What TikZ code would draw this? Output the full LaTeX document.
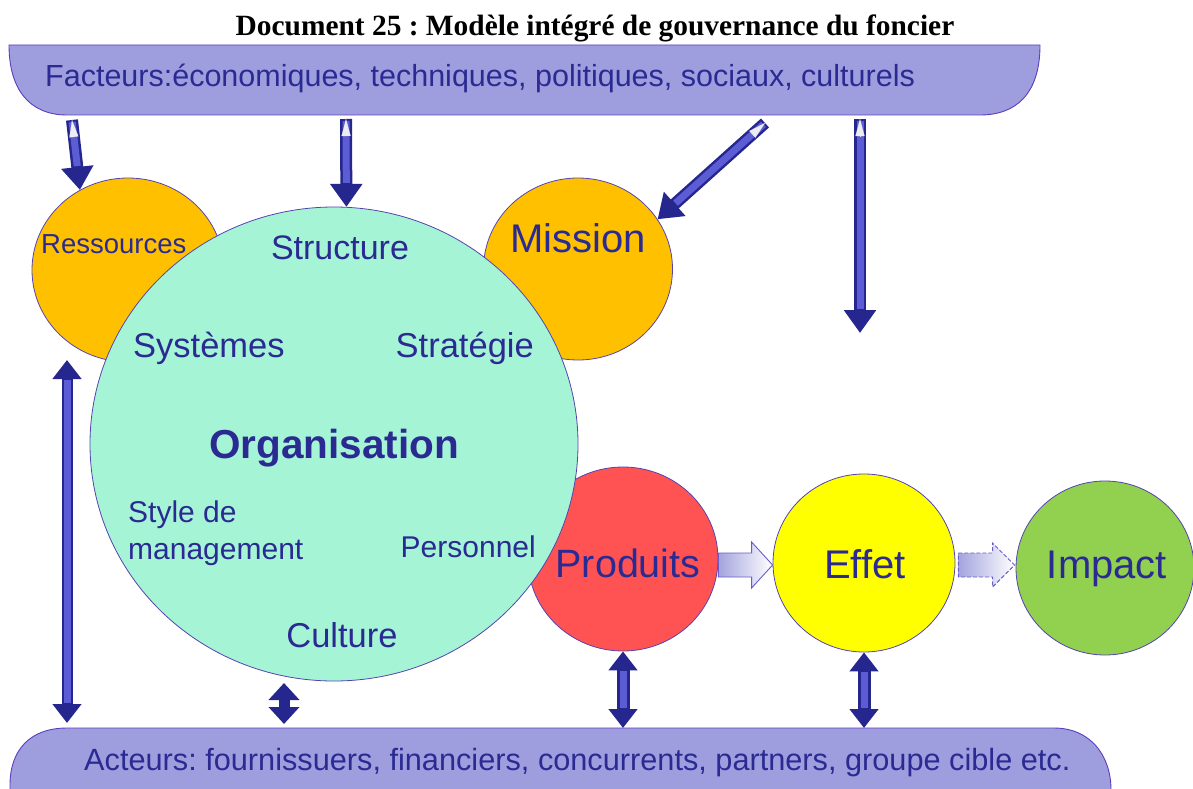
\documentclass[tikz,border=0pt]{standalone}
\usepackage{fontspec}
\setmainfont{Liberation Sans}
\newfontfamily\titlefont{Liberation Serif}
\usetikzlibrary{arrows.meta,calc,shapes.geometric}
\frenchspacing
\definecolor{banfill}{HTML}{9E9EDF}
\definecolor{banline}{HTML}{5A3EBE}
\definecolor{txtblue}{HTML}{2A2A92}
\definecolor{orng}{HTML}{FFC000}
\definecolor{aqua}{HTML}{A6F4D6}
\definecolor{redc}{HTML}{FF5353}
\definecolor{yelc}{HTML}{FFFF00}
\definecolor{grnc}{HTML}{92D050}
\definecolor{circline}{HTML}{5544B0}
\definecolor{arrdark}{HTML}{26268F}
\definecolor{arrlight}{HTML}{5C5CD4}
\definecolor{tailgray}{HTML}{ECECF2}
\definecolor{blkline}{HTML}{6A5CCB}
\definecolor{blkfill}{HTML}{A4A4DE}
\begin{document}
\begin{tikzpicture}[x=1pt,y=-1pt,
  banner/.style={fill=banfill, draw=banline, line width=0.9pt},
  circ/.style={ellipse, draw=circline, line width=0.8pt, inner sep=0pt},
  lbl/.style={text=txtblue, font=\fontsize{#1}{#1}\selectfont, inner sep=0pt},
  fat/.style={line width=12pt, draw=arrdark},
  fatin/.style={line width=7pt, draw=arrlight},
  onehead/.style={-{Triangle[length=23pt,width=31pt]}},
  twohead/.style={{Triangle[length=19pt,width=28pt]}-{Triangle[length=19pt,width=28pt]}},
  tailmark/.style={draw=tailgray, line width=0.1pt, -{Triangle[length=17pt,width=9pt,fill=tailgray]}},
  blockarr/.style={draw=blkline, line width=0.9pt, left color=blkfill, right color=white},
  dashblock/.style={blockarr, dash pattern=on 4pt off 2pt}
]
\useasboundingbox (0,0) rectangle (1193,789);

% title
\node[font=\titlefont\bfseries\fontsize{29.4}{29.4}\selectfont, anchor=base, inner sep=0pt] (title) at (595,36) {Document 25 : Modèle intégré de gouvernance du foncier};

% top banner
\draw[banner] (9,45) -- (1040,45) .. controls (1040,95) and (1015,115) .. (980,115) -- (67,115) .. controls (30,115) and (9,90) .. (9,45) -- cycle;
\node[lbl=30.5, anchor=base west] (fact) at (45,87) {Facteurs:économiques, techniques, politiques, sociaux, culturels};

% bottom banner
\draw[banner] (10,790) -- (10,785) .. controls (10,750) and (30,728) .. (67,728) -- (1054,728) .. controls (1090,728) and (1111,755) .. (1111,790) -- cycle;
\coordinate (bbtop) at (0,728);
\node[lbl=30.7, anchor=base west] (act) at (84,770) {Acteurs: fournissuers, financiers, concurrents, partners, groupe cible etc.};

% circles (behind)
\node[circ, fill=orng, minimum width=192pt, minimum height=184pt] (res) at (128,270) {};
\node[circ, fill=orng, minimum width=189pt, minimum height=182pt] (mis) at (578,269) {};
\node[circ, fill=redc, minimum width=190pt, minimum height=184pt] (prod) at (623,559) {};
\node[circ, fill=aqua, minimum width=488pt, minimum height=474pt] (org) at (334,444) {};
\node[circ, fill=yelc, minimum width=182pt, minimum height=178pt] (eff) at (864,563) {};
\node[circ, fill=grnc, minimum width=178pt, minimum height=174pt] (imp) at (1105,568) {};

% labels
\node[lbl=27.5, anchor=base west] (tres) at (41,253) {Ressources};
\node[lbl=34, anchor=base] (tstr) at (340,259) {Structure};
\node[lbl=34.5, anchor=base west] (tsys) at (133,357) {Systèmes};
\node[lbl=34.5, anchor=base east] (tstra) at (534,357) {Stratégie};
\node[lbl=40, anchor=base, font=\bfseries\fontsize{40.5}{40.5}\selectfont] (torg) at (334,458) {Organisation};
\node[lbl=30, anchor=base west] (tsty) at (128,522) {Style de};
\node[lbl=30, anchor=base west] (tman) at (128,559) {management};
\node[lbl=30, anchor=base east] (tper) at (536,557) {Personnel};
\node[lbl=34.5, anchor=base] (tcul) at (342,647) {Culture};
\node[lbl=40, anchor=base] (tmis) at (578,252) {Mission};
\node[lbl=39.5, anchor=base] (tprod) at (628,577) {Produits};
\node[lbl=40, anchor=base] (teff) at (865,578) {Effet};
\node[lbl=40, anchor=base] (timp) at (1107,578) {Impact};

% arrow end points
\coordinate (t1) at (72,120);
\coordinate (t2) at (346,119);
\coordinate (t3) at (765,123);
\coordinate (t4) at (860,119);
\coordinate (h4) at (860,333);
\coordinate (l1) at (67,360);
\coordinate (l2) at (67,723);
\coordinate (s1) at (284,683);
\coordinate (s2) at (284,724);

% arrows from top banner
\foreach \a/\b in {t1/res.121, t2/org.87, t3/mis.32, t4/h4}{
  \draw[fat, onehead] (\a) -- (\b);
  \draw[fatin, shorten >=24pt, shorten <=2pt] (\a) -- (\b);
  \draw[tailmark] ($(\a)!18pt!(\b)$) -- (\a);
}

% double arrows
\draw[fat, line width=11pt, twohead] (l1) -- (l2);
\draw[fatin, shorten >=20pt, shorten <=20pt] (l1) -- (l2);
\draw[fat, line width=11pt, {Triangle[length=17pt,width=30pt]}-{Triangle[length=17pt,width=30pt]}] (s1) -- (s2);
\draw[fat, line width=13pt, twohead] (prod.south) -- (prod.south |- bbtop);
\draw[fatin, shorten >=20pt, shorten <=20pt] (prod.south) -- (prod.south |- bbtop);
\draw[fat, line width=13pt, twohead] (eff.south) -- (eff.south |- bbtop);
\draw[fatin, shorten >=20pt, shorten <=20pt] (eff.south) -- (eff.south |- bbtop);

% block arrows
\coordinate (pa) at ($(prod.east)+(0,6)$);
\coordinate (pb) at ($(eff.west)+(0,2)$);
\draw[blockarr] ($(pa)+(0,-12)$) -- ($(pb)+(-21,-12)$) -- ($(pb)+(-21,-23)$) -- (pb) -- ($(pb)+(-21,23)$) -- ($(pb)+(-21,12)$) -- ($(pa)+(0,12)$) -- cycle;
\coordinate (qa) at ($(eff.east)+(3,2)$);
\coordinate (qb) at ($(imp.west)+(-1,-3)$);
\draw[dashblock] ($(qa)+(0,-12)$) -- ($(qb)+(-22,-12)$) -- ($(qb)+(-22,-22)$) -- (qb) -- ($(qb)+(-22,22)$) -- ($(qb)+(-22,12)$) -- ($(qa)+(0,12)$) -- cycle;
\end{tikzpicture}
\end{document}
